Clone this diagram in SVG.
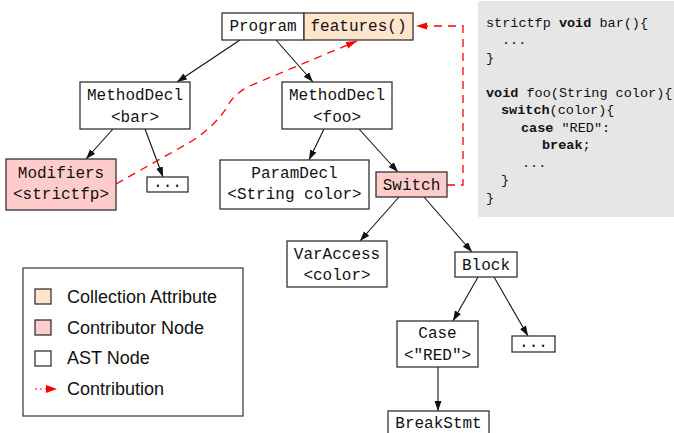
<svg xmlns="http://www.w3.org/2000/svg" width="674" height="433" viewBox="0 0 674 433">
<style>
.box{fill:#ffffff;stroke:#333333;stroke-width:1.3}
.contrib{fill:#ffcccc}
.coll{fill:#ffe5cc}
.nt{font-family:"Liberation Mono",monospace;font-size:16px;fill:#111;text-anchor:middle}
.code{font-family:"Liberation Mono",monospace;font-size:13.5px;fill:#111}
.code .k{font-weight:bold}
.edge{stroke:#111;stroke-width:1.1;fill:none;marker-end:url(#ah)}
.red{stroke:#ff0000;stroke-width:1.3;fill:none;stroke-dasharray:8 6;marker-end:url(#rah)}
.leg{font-family:"Liberation Sans",Arial,sans-serif;font-size:18px;fill:#111}
</style>
<defs>
<marker id="ah" markerUnits="userSpaceOnUse" markerWidth="11" markerHeight="8" refX="10" refY="3.5" orient="auto">
<path d="M0,0 L10,3.5 L0,7 z" fill="#111"/>
</marker>
<marker id="rah" markerUnits="userSpaceOnUse" markerWidth="12" markerHeight="8" refX="11" refY="3.5" orient="auto">
<path d="M0,0 L11,3.5 L0,7 z" fill="#ff0000"/>
</marker>
</defs>
<rect width="674" height="433" fill="#ffffff"/>

<g id="code-panel">
<rect x="478" y="1" width="196" height="216" fill="#e6e6e6"/>
<text class="code" x="486" y="26.5">strictfp <tspan class="k">void</tspan> bar(){</text>
<text class="code" x="502" y="44">...</text>
<text class="code" x="486" y="61.5">}</text>
<text class="code" x="486" y="96.5"><tspan class="k">void</tspan> foo(String color){</text>
<text class="code" x="501" y="114"><tspan class="k">switch</tspan>(color){</text>
<text class="code" x="521" y="131.5"><tspan class="k">case</tspan> "RED":</text>
<text class="code" x="542" y="149"><tspan class="k">break</tspan>;</text>
<text class="code" x="522" y="166.5">...</text>
<text class="code" x="501" y="184">}</text>
<text class="code" x="486" y="201.5">}</text>
</g>

<g id="connectors">
<line class="edge" x1="240" y1="40" x2="177" y2="82"/>
<line class="edge" x1="276" y1="40" x2="313" y2="82"/>
<line class="edge" x1="113" y1="129" x2="86" y2="159"/>
<line class="edge" x1="145" y1="129" x2="163" y2="177"/>
<line class="edge" x1="324" y1="129" x2="309" y2="160"/>
<line class="edge" x1="359" y1="129" x2="398" y2="172"/>
<line class="edge" x1="399" y1="197" x2="360" y2="241"/>
<line class="edge" x1="424" y1="197" x2="472" y2="252"/>
<line class="edge" x1="478" y1="277" x2="453" y2="321"/>
<line class="edge" x1="494" y1="277" x2="528" y2="336"/>
<line class="edge" x1="438" y1="367" x2="438" y2="411" stroke="#555"/>
<path class="red" d="M447,185 H463 V26 H416"/>
<path class="red" d="M116,184 L192,141 Q218,124 230,102 Q238,91 252,85 L357,41"/>
</g>

<g id="program">
<rect class="box" x="222" y="13" width="82" height="27"/>
<text class="nt" x="263" y="31">Program</text>
</g>
<g id="features">
<rect class="box coll" x="304" y="13" width="109" height="27"/>
<text class="nt" x="358.5" y="31">features()</text>
</g>
<g id="methoddecl-bar">
<rect class="box" x="80" y="82" width="110" height="47"/>
<text class="nt" x="135" y="100">MethodDecl</text>
<text class="nt" x="135" y="122">&lt;bar&gt;</text>
</g>
<g id="modifiers">
<rect class="box contrib" x="6" y="159" width="110" height="51"/>
<text class="nt" x="61" y="178">Modifiers</text>
<text class="nt" x="61" y="199">&lt;strictfp&gt;</text>
</g>
<g id="dots-bar">
<rect class="box" x="147" y="177" width="41" height="15"/>
<text class="nt" x="167.5" y="187">...</text>
</g>
<g id="methoddecl-foo">
<rect class="box" x="282" y="82" width="110" height="47"/>
<text class="nt" x="337" y="100">MethodDecl</text>
<text class="nt" x="337" y="122">&lt;foo&gt;</text>
</g>
<g id="paramdecl">
<rect class="box" x="220" y="160" width="149" height="49"/>
<text class="nt" x="294.5" y="178">ParamDecl</text>
<text class="nt" x="294.5" y="199">&lt;String color&gt;</text>
</g>
<g id="switch">
<rect class="box contrib" x="376" y="172" width="71" height="25"/>
<text class="nt" x="411.5" y="190">Switch</text>
</g>
<g id="varaccess">
<rect class="box" x="287" y="241" width="100" height="46"/>
<text class="nt" x="337" y="259">VarAccess</text>
<text class="nt" x="337" y="280">&lt;color&gt;</text>
</g>
<g id="block">
<rect class="box" x="455" y="252" width="62" height="25"/>
<text class="nt" x="486" y="270">Block</text>
</g>
<g id="case">
<rect class="box" x="397" y="321" width="81" height="46"/>
<text class="nt" x="437.5" y="338">Case</text>
<text class="nt" x="437.5" y="360">&lt;"RED"&gt;</text>
</g>
<g id="dots-block">
<rect class="box" x="512" y="336" width="43" height="16"/>
<text class="nt" x="533.5" y="347">...</text>
</g>
<g id="breakstmt">
<rect class="box" x="388" y="411" width="101" height="30"/>
<text class="nt" x="438.5" y="428">BreakStmt</text>
</g>

<g id="legend">
<rect x="23" y="268" width="220" height="148" fill="#ffffff" stroke="#333" stroke-width="1.2"/>
<rect class="box coll" x="35" y="289" width="16" height="15"/>
<text class="leg" x="67" y="303">Collection Attribute</text>
<rect class="box contrib" x="35" y="320" width="16" height="15"/>
<text class="leg" x="67" y="334">Contributor Node</text>
<rect class="box" x="35" y="351" width="16" height="15"/>
<text class="leg" x="67" y="364">AST Node</text>
<line x1="35" y1="389" x2="46" y2="389" stroke="#ff0000" stroke-width="1.2" stroke-dasharray="2 3"/>
<path d="M46,385 L57,389 L46,393 z" fill="#ff0000"/>
<text class="leg" x="67" y="395">Contribution</text>
</g>
</svg>
